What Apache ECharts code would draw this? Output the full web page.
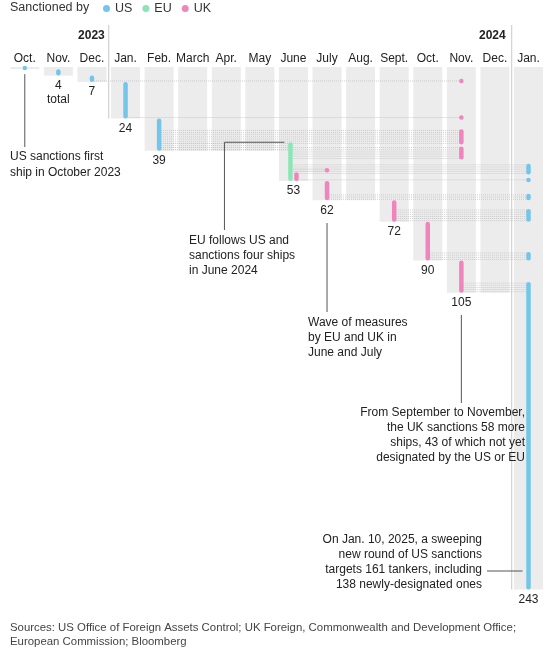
<!DOCTYPE html>
<html><head><meta charset="utf-8">
<script src="https://cdn.jsdelivr.net/npm/echarts@6/dist/echarts.min.js"></script>
<style>html,body{margin:0;padding:0;background:#fff}#c{width:552px;height:652px}</style>
</head><body><div id="c"></div>
<script>
// ---- data ----
const months = ['Oct.','Nov.','Dec.','Jan.','Feb.','March','Apr.','May','June','July','Aug.','Sept.','Oct.','Nov.','Dec.','Jan.'];
const yearLabels = ['2023','2024'];
const cumulativeTotals = [1,4,7,24,39,39,39,39,53,62,62,72,90,105,105,243];
// [monthIndex, fromShip, toShip]
const usSegments = [[0,0,1],[1,1,4],[2,4,7],[3,7,24],[4,24,39],[15,45,50],[15,52,53],[15,59,62],[15,66,72],[15,86,90],[15,100,243]];
const euSegments = [[8,35,53]];
const ukSegments = [[8,49,53],[9,47,49],[9,53,62],[11,62,72],[12,72,90],[13,6,7],[13,23,24],[13,29,36],[13,37,43],[13,90,105]];
// [fromMonth, toMonth, fromShip, toShip]
const links = [[2,13,6,7],[3,13,23,24],[4,13,29,36],[4,13,37,39],[8,13,39,43],[4,8,35,39],[8,9,47,49],
  [8,15,45,50],[8,15,52,53],[9,15,59,62],[11,15,66,72],[12,15,86,90],[13,15,100,105]];
const labelMonths = [1,2,3,4,8,9,11,12,13,15];
const labelTexts = ['4\ntotal','7','24','39','53','62','72','90','105','243'];
const legendTitle = 'Sanctioned by';
const notes = [
  'US sanctions first\nship in October 2023',
  'EU follows US and\nsanctions four ships\nin June 2024',
  'Wave of measures\nby EU and UK in\nJune and July',
  'From September to November,\nthe UK sanctions 58 more\nships, 43 of which not yet\ndesignated by the US or EU',
  'On Jan. 10, 2025, a sweeping\nnew round of US sanctions\ntargets 161 tankers, including\n138 newly-designated ones'
];
const sourceText = 'Sources: US Office of Foreign Assets Control; UK Foreign, Commonwealth and Development Office;\nEuropean Commission; Bloomberg';

// ---- chart ----
const FONT = "'Liberation Sans', Arial, Helvetica, sans-serif";
const COLORS = {US:'#74c5ea', EU:'#8de5b5', UK:'#f085bd'};
const BAR_W = 4.5;
const chart = echarts.init(document.getElementById('c'));

function segRender(offsetFn) {
  return function (params, api) {
    const m = api.value(0), a = api.value(1), b = api.value(2);
    const p1 = api.coord([m, a]), p2 = api.coord([m, b]);
    const off = offsetFn(m);
    let y = p1[1], h = p2[1] - p1[1];
    if (h < BAR_W) { y = (p1[1] + p2[1]) / 2 - BAR_W / 2; h = BAR_W; }
    return {type:'rect', shape:{x:p1[0] + off - BAR_W/2, y:y, width:BAR_W, height:h, r:BAR_W/2},
      style:{fill: api.visual('color')}};
  };
}
const euMonths = euSegments.map(s => s[0]);

chart.setOption({
  animation:false,
  textStyle:{fontFamily:FONT},
  grid:{left:8, right:6.7, top:67, bottom:62.5},
  legend:{left:98, top:-3, itemWidth:7, itemHeight:7, itemGap:10, selectedMode:false,
    textStyle:{fontSize:12.5, color:'#333', fontFamily:FONT},
    data:[{name:'US',icon:'circle'},{name:'EU',icon:'circle'},{name:'UK',icon:'circle'}]},
  xAxis:{type:'category', data:months, position:'top', boundaryGap:true,
    axisLine:{show:false}, axisTick:{show:false}, splitLine:{show:false},
    axisLabel:{margin:2, fontSize:12, color:'#222', fontFamily:FONT, interval:0}},
  yAxis:{type:'value', inverse:true, min:0, max:243, show:false, splitLine:{show:false}},
  series:[
    {type:'custom', name:'bands', silent:true, clip:false, z:1,
      data: cumulativeTotals.map((t,i)=>[i,t]),
      renderItem:function(params, api){
        const m = api.value(0), t = api.value(1);
        const p0 = api.coord([m,0]), p1 = api.coord([m,t]);
        const w = api.size([1,0])[0] - 4.6;
        return {type:'rect', shape:{x:p0[0]-w/2, y:p0[1], width:w, height:Math.max(p1[1]-p0[1],2)},
          style:{fill:'#ececec'}};
      }},
    {type:'custom', name:'links', silent:true, clip:false, z:2,
      data: links,
      renderItem:function(params, api){
        const f = api.value(0), t = api.value(1), a = api.value(2), b = api.value(3);
        const children = [];
        for (let i=a;i<b;i++){
          const p1 = api.coord([f,i+0.5]), p2 = api.coord([t,i+0.5]);
          children.push({type:'line', shape:{x1:p1[0],y1:p1[1],x2:p2[0],y2:p2[1]},
            style:{stroke:'#c2c2c2', lineWidth:0.8, lineDash:[1,1]}});
        }
        return {type:'group', children};
      }},
    {type:'custom', name:'US', clip:false, z:5, itemStyle:{color:COLORS.US}, data:usSegments,
      renderItem:segRender(()=>0)},
    {type:'custom', name:'EU', clip:false, z:5, itemStyle:{color:COLORS.EU}, data:euSegments,
      renderItem:segRender(()=>-3)},
    {type:'custom', name:'UK', clip:false, z:6, itemStyle:{color:COLORS.UK}, data:ukSegments,
      renderItem:segRender(m => euMonths.includes(m) ? 3 : 0)},
    {type:'custom', name:'totals', silent:true, clip:false, z:7,
      data: labelMonths.map(m => [m, cumulativeTotals[m]]),
      renderItem:function(params, api){
        const p = api.coord([api.value(0), api.value(1)]);
        return {type:'text', x:p[0], y:p[1]+3,
          style:{text:labelTexts[params.dataIndex], fontSize:12, fontFamily:FONT, fill:'#222',
            align:'center', verticalAlign:'top', textAlign:'center', textVerticalAlign:'top', lineHeight:14}};
      }}
  ]
});

function px(m, v){ return chart.convertToPixel({gridIndex:0}, [m, v]); }
function txt(x, y, text, opts){
  opts = opts || {};
  return {type:'text', x:x, y:y, z:20, silent:true,
    style:{text:text, fontSize:opts.size||12, fontFamily:FONT, fontWeight:opts.weight||'normal',
      fill:opts.color||'#222', align:opts.align||'left', textAlign:opts.align||'left',
      verticalAlign:'top', textVerticalAlign:'top', lineHeight:opts.lh||15}};
}
function ln(x1,y1,x2,y2,color){
  return {type:'line', z:15, silent:true, shape:{x1,y1,x2,y2}, style:{stroke:color||'#555', lineWidth:1}};
}
const c = i => px(i, 0)[0];
const sep1 = (c(2)+c(3))/2, sep2 = (c(14)+c(15))/2;
const euTop = px(8, euSegments[0][1])[1];
const graphics = [
  txt(10, 0, legendTitle, {size:12.5, color:'#333', lh:15}),
  ln(sep1, 25, sep1, px(3, cumulativeTotals[3])[1], '#c8c8c8'),
  ln(sep2, 25, sep2, px(15, cumulativeTotals[15])[1], '#c8c8c8'),
  txt(sep1-4, 29, yearLabels[0], {weight:'bold', align:'right', lh:14}),
  txt(sep2-6, 29, yearLabels[1], {weight:'bold', align:'right', lh:14}),
  // annotation 1
  ln(c(0), px(0,1)[1]+5, c(0), 147),
  txt(10, 149, notes[0], {lh:16}),
  // annotation 2
  ln(c(8)-9, euTop, c(8)-69, euTop),
  ln(c(8)-69, euTop, c(8)-69, 230),
  txt(189, 233, notes[1]),
  // annotation 3
  ln(c(9), 223, c(9), 312),
  txt(308, 315, notes[2]),
  // annotation 4
  ln(c(13), 315, c(13), 403),
  txt(525, 405, notes[3], {align:'right'}),
  // annotation 5
  ln(487, 571, c(15)-6, 571),
  txt(482, 532, notes[4], {align:'right'}),
  // sources
  txt(10, 621, sourceText, {size:11.4, color:'#444', lh:14})
];
chart.setOption({graphic: graphics});
</script></body></html>
